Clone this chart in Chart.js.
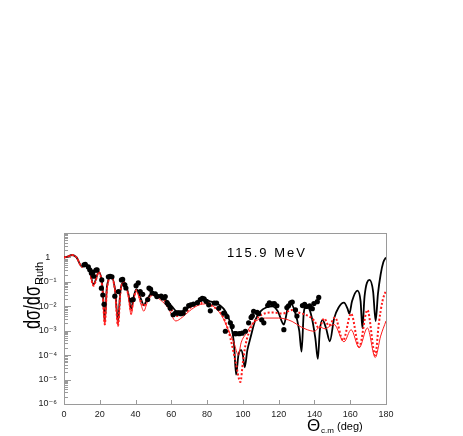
<!DOCTYPE html>
<html>
<head>
<meta charset="utf-8">
<script src="https://cdn.jsdelivr.net/npm/chart.js@4.4.1/dist/chart.umd.min.js"></script>
<style>
  html, body { margin: 0; padding: 0; background: #fff; }
  canvas { display: block; }
</style>
</head>
<body>
<canvas id="xsChart" width="463" height="436"></canvas>
<script>
// axis ticks
const xTicks = [0, 20, 40, 60, 80, 100, 120, 140, 160, 180];
const yTicks = [1e-6, 1e-5, 1e-4, 1e-3, 1e-2, 1e-1, 1];
const yTickLabels = ['10⁻⁶', '10⁻⁵', '10⁻⁴', '10⁻³', '10⁻²', '10⁻¹', '1'];

// measured data (elastic scattering, ratio to Rutherford)
const dataAngles = [11.2, 11.9, 13.6, 14.4, 15.3, 16.1, 16.6, 17.9, 18.5, 20.9, 21.1, 21.7, 22.4,
  24.8, 25.8, 26.8, 28.4, 30.4, 32.1, 32.8, 34.0, 34.6, 37.9, 38.7, 40.3, 41.5, 42.6, 44.0,
  46.8, 47.5, 48.4, 49.3, 51.0, 51.9, 54.3, 55.3, 56.6, 57.6, 58.4, 59.4, 61.0, 62.3, 63.9,
  65.3, 66.6, 67.8, 69.7, 70.9, 72.4, 74.6, 76.2, 77.3, 78.3, 79.4, 80.9, 81.8, 84.0, 85.3,
  86.5, 89.3, 90.2, 91.1, 93.0, 94.0, 95.3, 96.2, 98.0, 99.6, 101.4, 103.2, 104.6, 105.3,
  106.0, 108.0, 108.8, 110.5, 111.7, 113.9, 114.8, 116.5, 117.6, 119.0, 122.9, 124.6, 125.5,
  126.7, 127.6, 129.4, 130.2, 133.3, 134.5, 135.6, 137.3, 138.8, 139.7, 141.6, 142.4];
const dataValues = [0.50, 0.52, 0.41, 0.31, 0.23, 0.25, 0.17, 0.30, 0.31, 0.055, 0.12, 0.029, 0.012,
  0.16, 0.17, 0.16, 0.026, 0.04, 0.12, 0.126, 0.076, 0.056, 0.018, 0.019, 0.07, 0.09, 0.04, 0.031,
  0.019, 0.056, 0.05, 0.035, 0.032, 0.025, 0.026, 0.022, 0.025, 0.014, 0.0115, 0.0083, 0.0045, 0.0052, 0.0052,
  0.005, 0.0052, 0.0076, 0.0107, 0.0115, 0.0123, 0.014, 0.019, 0.021, 0.02, 0.016, 0.0115, 0.0065, 0.0135, 0.0135,
  0.0083, 0.0052, 0.00095, 0.0038, 0.0021, 0.0015, 7.6e-4, 7.6e-4, 7.6e-4, 7.9e-4, 9.5e-4, 0.0021, 0.0035, 0.0041,
  0.0062, 0.0056, 0.005, 0.0028, 0.0021, 0.011, 0.0138, 0.0126, 0.013, 0.0105, 0.0011, 0.0089, 0.0105,
  0.0138, 0.015, 0.0071, 0.004, 0.0107, 0.012, 0.0098, 0.0105, 0.008, 0.013, 0.0155, 0.023];

// calculation 1 (black solid)
const blackAngles = [0, 2, 4.5, 7, 10, 12, 14, 16.5, 19.5, 21.5, 22.8, 24, 26.5, 28.5, 30.2, 31.5,
  33.5, 36, 37.5, 39, 40.5, 43, 44.6, 46.5, 49.5, 53, 57, 60.3, 63, 66, 69.7, 74, 78, 81.5, 84.6,
  87, 90.2, 93, 95, 96.2, 97.5, 99, 100, 101, 102.5, 104.2, 107, 110, 113, 116.5, 119.5, 122.9,
  125, 126.6, 129, 131.5, 132.8, 134, 135.5, 138, 140.5, 141.9, 143, 144.5, 146.5, 148.6, 151,
  153.5, 156.5, 158.5, 159.5, 161, 164, 165.8, 166.8, 168, 170.8, 172.8, 174.2, 175.5, 177, 178.5, 180];
const blackValues = [1.0, 1.07, 1.26, 1.0, 0.42, 0.56, 0.35, 0.08, 0.25, 0.063, 0.0025, 0.063, 0.16, 0.05, 0.0025, 0.04,
  0.1, 0.032, 0.008, 0.025, 0.05, 0.02, 0.011, 0.02, 0.035, 0.028, 0.018, 0.01, 0.0063, 0.0063, 0.009, 0.014, 0.021, 0.016, 0.014,
  0.011, 0.0063, 0.002, 3.2e-4, 1.6e-5, 1.0e-4, 1.6e-4, 1.0e-4, 3.2e-5, 1.6e-4, 5.0e-4, 2.8e-3, 6.3e-3, 8.9e-3, 0.01, 6.3e-3, 1.8e-3,
  8e-3, 0.0135, 6.3e-3, 1e-3, 1.4e-4, 5e-3, 0.011, 5e-3, 5e-4, 7e-5, 1e-3, 2.8e-3, 1.26e-3, 3.7e-4, 3.2e-3,
  8.9e-3, 0.014, 8e-3, 5e-3, 0.016, 0.044, 0.016, 1.26e-3, 0.025, 0.12, 0.04, 2.5e-3, 0.032, 0.2, 0.63, 1.0];

// calculation 2 (red dotted)
const dottedAngles = [0, 2, 4.5, 7, 10, 12, 14, 16.5, 19.5, 21.5, 22.8, 24, 26.5, 28.5, 30.2, 31.5,
  33.5, 36, 37.5, 39, 40.5, 43, 44.6, 46.5, 49.5, 54, 58, 63, 67, 71, 76, 79, 83, 87, 90, 93, 96,
  98.6, 100, 101.4, 105, 108.5, 112.6, 117, 122, 127.5, 131, 135, 138, 140, 142.5, 145.5, 148,
  151.5, 156, 160.5, 165, 169.6, 174, 176, 178, 180];
const dottedValues = [1.0, 1.07, 1.26, 1.0, 0.42, 0.56, 0.35, 0.07, 0.25, 0.05, 0.0018, 0.05, 0.16, 0.045, 0.0016, 0.035,
  0.1, 0.028, 0.0063, 0.022, 0.045, 0.016, 0.01, 0.018, 0.032, 0.022, 0.0126, 0.004, 0.005, 0.009, 0.0126, 0.016, 0.01, 0.0063, 0.0025, 5e-4, 5e-5,
  8e-6, 5e-5, 2.5e-4, 1.6e-3, 3.5e-3, 5.2e-3, 5.6e-3, 5e-3, 7e-3, 5.6e-3, 4.5e-3, 3.5e-3, 2.5e-3, 1.26e-3, 3.2e-3, 1.6e-3,
  3.5e-3, 4e-4, 5e-3, 2.2e-4, 7e-3, 1e-4, 2e-3, 0.016, 0.045];

// calculation 3 (red thin solid)
const thinAngles = [0, 2, 4.5, 7, 10, 12, 14, 16.5, 19.5, 21.5, 22.8, 24, 26.5, 28.5, 30.2, 31.5,
  33.5, 36, 37.5, 39, 40.5, 43, 44.6, 46.5, 49.5, 54, 58, 62.5, 66, 70, 75, 80, 85, 89, 92, 95,
  97.5, 99, 102, 105, 112.6, 120, 127.5, 132, 136, 140, 143, 146, 149, 151, 156.5, 160.5, 165,
  169.6, 174, 177, 180];
const thinValues = [1.0, 1.07, 1.26, 1.0, 0.42, 0.56, 0.35, 0.07, 0.25, 0.05, 0.0018, 0.05, 0.16, 0.045, 0.0016, 0.035,
  0.1, 0.025, 0.0045, 0.018, 0.04, 0.012, 0.0063, 0.014, 0.028, 0.018, 0.009, 0.0025, 0.0035, 0.0063, 0.011, 0.0126, 0.008, 0.0032, 1e-3, 3.2e-4,
  1e-4, 3.2e-4, 8e-4, 1.8e-3, 3.3e-3, 3.3e-3, 2.4e-3, 1.5e-3, 1.1e-3, 9.5e-4, 1.4e-3, 1.2e-3, 1.6e-3, 1.8e-3, 3.5e-4, 1.1e-3, 2e-4,
  1.3e-3, 8e-5, 6e-4, 2.5e-3];

const pairs = (xs, ys) => xs.map((x, i) => ({x, y: ys[i]}));

const FONT = "'Liberation Sans', 'DejaVu Sans', Arial, sans-serif";

// frame, inner tick marks and free texts
const decorPlugin = {
  id: 'decor',
  beforeDatasetsDraw(chart) {
    const {ctx, chartArea: a, scales: {x, y}} = chart;
    ctx.save();
    ctx.strokeStyle = '#9a9a9a';
    ctx.lineWidth = 1;
    ctx.strokeRect(Math.round(a.left) + 0.5, Math.round(a.top) + 0.5,
      Math.round(a.right - a.left), Math.round(a.bottom - a.top));
    ctx.beginPath();
    for (let d = -6; d <= 0; d++) {
      for (let m = 1; m <= 9; m++) {
        const py = Math.round(y.getPixelForValue(m * Math.pow(10, d))) + 0.5;
        const len = m === 1 ? 7 : 4;
        ctx.moveTo(a.left, py);
        ctx.lineTo(a.left + len, py);
      }
    }
    xTicks.forEach(v => {
      const px = Math.round(x.getPixelForValue(v)) + 0.5;
      ctx.moveTo(px, a.bottom);
      ctx.lineTo(px, a.bottom - 4);
    });
    ctx.stroke();
    ctx.restore();
  },
  afterDraw(chart) {
    const {ctx} = chart;
    ctx.save();
    ctx.fillStyle = '#000';
    // energy label
    ctx.font = `13px ${FONT}`;
    ctx.textBaseline = 'alphabetic';
    if ('letterSpacing' in ctx) ctx.letterSpacing = '2px';
    ctx.fillText('115.9 MeV', 227, 257);
    if ('letterSpacing' in ctx) ctx.letterSpacing = '0px';

    // y title
    ctx.save();
    ctx.translate(40, 329);
    ctx.rotate(-Math.PI / 2);
    ctx.font = `24px ${FONT}`;
    const main = 'dσ/dσ';
    const w = ctx.measureText(main).width;
    ctx.save();
    ctx.scale(43 / w, 1);
    ctx.fillText(main, 0, 0);
    ctx.restore();
    ctx.font = `11px ${FONT}`;
    ctx.fillText('Ruth', 44, 3);
    ctx.restore();

    // x title
    ctx.font = `17px ${FONT}`;
    ctx.fillText('Θ', 307, 431);
    ctx.font = `8px ${FONT}`;
    ctx.fillText('c.m', 321, 433);
    ctx.font = `11px ${FONT}`;
    ctx.fillText('(deg)', 337, 430);
    ctx.restore();
  }
};

new Chart(document.getElementById('xsChart'), {
  type: 'line',
  data: {
    datasets: [
      {
        label: 'data',
        data: pairs(dataAngles, dataValues),
        showLine: false,
        pointRadius: 2.6,
        pointBackgroundColor: '#000',
        pointBorderWidth: 0,
        order: 0
      },
      {
        label: 'calc thin',
        data: pairs(thinAngles, thinValues),
        borderColor: '#ff1a1a',
        borderWidth: 1,
        pointRadius: 0,
        cubicInterpolationMode: 'monotone',
        order: 1
      },
      {
        label: 'calc dotted',
        data: pairs(dottedAngles, dottedValues),
        borderColor: '#ff1a1a',
        borderWidth: 2,
        borderDash: [2, 2],
        pointRadius: 0,
        cubicInterpolationMode: 'monotone',
        order: 2
      },
      {
        label: 'calc black',
        data: pairs(blackAngles, blackValues),
        borderColor: '#000',
        borderWidth: 1.8,
        pointRadius: 0,
        cubicInterpolationMode: 'monotone',
        order: 3
      }
    ]
  },
  options: {
    responsive: false,
    animation: false,
    devicePixelRatio: 1,
    layout: { padding: { top: 233, right: 77, left: 0, bottom: 0 } },
    plugins: { legend: { display: false }, tooltip: { enabled: false } },
    scales: {
      x: {
        type: 'linear',
        min: 0,
        max: 180,
        grid: { display: false, drawTicks: false },
        border: { display: false },
        afterBuildTicks: s => { s.ticks = xTicks.map(v => ({value: v})); },
        afterFit: s => { s.height = 32; },
        ticks: {
          padding: 5,
          color: '#222',
          font: { family: FONT, size: 9 },
          maxRotation: 0,
          callback: v => String(v)
        }
      },
      y: {
        type: 'logarithmic',
        min: 1e-6,
        max: 10,
        grid: { display: false, drawTicks: false },
        border: { display: false },
        afterBuildTicks: s => { s.ticks = yTicks.map(v => ({value: v})); },
        afterFit: s => { s.width = 64; },
        ticks: {
          padding: 7,
          crossAlign: 'center',
          color: '#222',
          font: { family: FONT, size: 9 },
          callback: (v, i) => yTickLabels[i]
        }
      }
    }
  },
  plugins: [decorPlugin]
});
</script>
</body>
</html>
